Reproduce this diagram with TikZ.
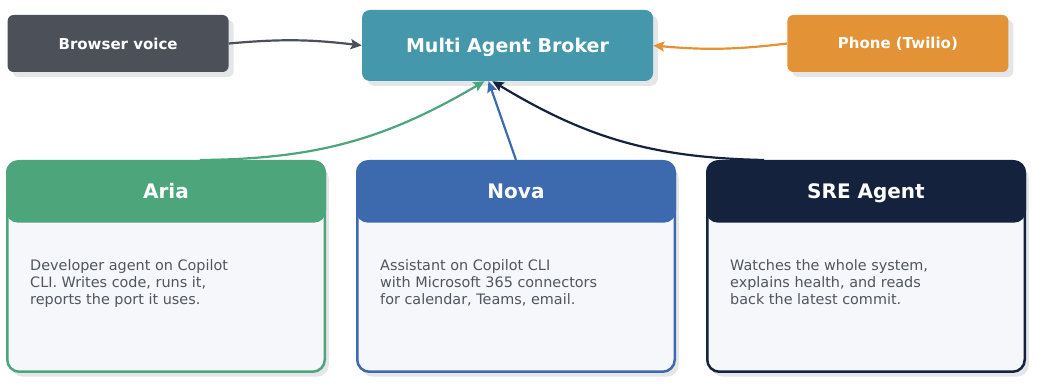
\documentclass[tikz,border=0pt]{standalone}
\usepackage{fontspec}
\setmainfont{DejaVu Sans}
\usetikzlibrary{arrows.meta,positioning,shadows,calc}
\definecolor{brgray}{RGB}{75,80,89}
\definecolor{brteal}{RGB}{69,151,172}
\definecolor{brorange}{RGB}{227,146,54}
\definecolor{brgreen}{RGB}{77,165,123}
\definecolor{brblue}{RGB}{61,106,174}
\definecolor{brnavy}{RGB}{20,34,62}
\definecolor{brbody}{RGB}{246,247,251}
\definecolor{brshadow}{RGB}{228,230,234}
\definecolor{brtext}{RGB}{80,85,94}

\begin{document}
\begin{tikzpicture}[
		x=1pt, y=-1pt,
		node distance=30pt and 30pt,
		source/.style={rectangle, rounded corners=6pt, minimum width=221pt, minimum height=57pt, align=center, text=white, font=\fontsize{15}{18}\selectfont\bfseries, drop shadow={shadow xshift=5pt, shadow yshift=-5pt, fill=brshadow, opacity=1}},
		broker/.style={rectangle, rounded corners=8pt, fill=brteal, minimum width=291pt, minimum height=71pt, text height=13.9pt, text depth=0pt, text=white, font=\fontsize{19}{23}\selectfont\bfseries, drop shadow={shadow xshift=5pt, shadow yshift=-5pt, fill=brshadow, opacity=1}},
		card/.style={rectangle, rounded corners=12pt, draw=#1, line width=2.5pt, fill=brbody, minimum width=317.5pt, minimum height=210.5pt, drop shadow={shadow xshift=4pt, shadow yshift=-5pt, fill=brshadow, opacity=1}},
		cardhead/.style={rectangle, rounded corners=12pt, fill=#1, minimum width=320pt, minimum height=62.5pt, text height=14.6pt, text depth=0pt, anchor=north, text=white, font=\fontsize{20}{24}\selectfont\bfseries},
		cardtext/.style={anchor=north west, inner sep=0pt, align=left, text=brtext, font=\fontsize{14.4}{16.7}\selectfont},
		link/.style={-{Stealth[length=11pt, width=10pt, inset=2pt]}, line width=2.2pt}
	]
		\useasboundingbox (0,0) rectangle (1037,387);

		\node[broker] (broker) at (507.5,45.5) {Multi Agent Broker};
		\node[source, fill=brgray, left=133pt of broker, yshift=2pt] (browser) {Browser voice};
		\node[source, fill=brorange, right=134pt of broker, yshift=2pt] (phone) {Phone (Twilio)};

		\node[card=brgreen] (aria) at (166,266.5) {};
		\node[card=brblue, right=of aria] (nova) {};
		\node[card=brnavy, right=of nova] (sre) {};

		\node[cardhead=brgreen] (ariahead) at (aria.north) {Aria};
		\node[cardhead=brblue] (novahead) at (nova.north) {Nova};
		\node[cardhead=brnavy] (srehead) at (sre.north) {SRE Agent};

		\node[cardtext] (ariatext) at ([xshift=24pt, yshift=-99.5pt]aria.north west) {Developer agent on Copilot\\CLI. Writes code, runs it,\\reports the port it uses.};
		\node[cardtext] (novatext) at ([xshift=24pt, yshift=-99.5pt]nova.north west) {Assistant on Copilot CLI\\with Microsoft 365 connectors\\for calendar, Teams, email.};
		\node[cardtext] (sretext) at ([xshift=24pt, yshift=-99.5pt]sre.north west) {Watches the whole system,\\explains health, and reads\\back the latest commit.};

		\draw[link, draw=brgray] (browser.east) to[bend left=6] (broker.west);
		\draw[link, draw=brorange] (phone.west) to[bend left=6] (broker.east);
		\draw[link, draw=brgreen] ([xshift=34pt]aria.north) to[bend right=15] ([xshift=-23pt]broker.south);
		\draw[link, draw=brblue] (nova.north) -- ([xshift=-19pt]broker.south);
		\draw[link, draw=brnavy] ([xshift=-102pt]sre.north) to[bend left=15] ([xshift=-15pt]broker.south);
	\end{tikzpicture}
\end{document}
